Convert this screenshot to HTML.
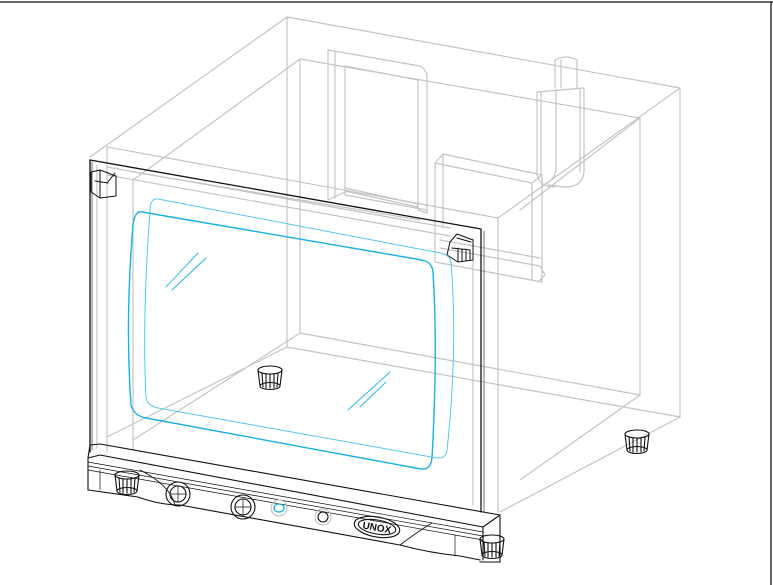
<!DOCTYPE html>
<html><head><meta charset="utf-8"><style>
html,body{margin:0;padding:0;background:#fff;width:773px;height:585px;overflow:hidden}
svg{display:block}
</style></head><body>
<svg width="773" height="585" viewBox="0 0 773 585" xmlns="http://www.w3.org/2000/svg" fill="none" stroke-linecap="round" stroke-linejoin="round">
<line x1="0" y1="2" x2="773" y2="2" stroke="#333" stroke-width="1.5"/>
<line x1="771" y1="2" x2="771" y2="585" stroke="#333" stroke-width="1.5"/>

<g stroke="#c4c4c4" stroke-width="1.2">
<path d="M287,17 L680,88 L680,417 L287,347 Z"/>
<path d="M287,17 L90,157 M680,88 L498,218 M287,347 L107,437 M680,417 L500,512"/>
<path d="M107,147 L498,218 L498,512"/>
<path d="M107,147 L107,452"/>
<path d="M300,59 L640,118 L640,395 L300,333 Z"/>
<path d="M300,59 L133,180 M640,118 L520,210 M300,333 L133,440 M640,395 L520,480"/>
<path d="M133,180 L133,450"/>
<path d="M133,172 L420,220"/>
<path d="M107,167 L450,228 M107,175 L450,236"/>
<path d="M328,50 L420,66 Q427,70 427,78 L427,213 L418,210 L418,80 L345,66 L345,195 L427,210"/>
<path d="M328,50 L328,200 L345,192 M335,52 L335,198"/>
<path d="M345,188 L418,204 M345,191 L418,207"/>
<path d="M555,60 Q566,54 577,60 L577,88 M555,60 L555,88 M561,60 L561,88"/>
<path d="M537,92 L584,88 L584,170 Q584,187 565,187 L548,185 M537,92 L537,175 Q540,187 555,187"/>
<path d="M541,92 L541,176 M580,90 L580,172 M556,90 L556,170 Q554,180 545,184"/>
<path d="M435,163 L443,154 L542,175 L542,282 L435,262 Z"/>
<path d="M443,154 L443,228 M435,163 L532,183 L542,175 M532,183 L532,280"/>
<path d="M440,240 L540,258 M440,248 L540,266 L545,275 L538,282"/>
</g>

<g stroke="#111" stroke-width="1.3">
<path d="M90,160 L481,229 L481,512"/>
<path d="M90,160 L90,452"/>
<path d="M92,162 L92,450" stroke-width="0.6"/>
<path d="M484,231 L484,512" stroke-width="0.6"/>
</g>
<path d="M97,165 L97,448 M473,238 L473,505" stroke="#bbb" stroke-width="1"/>

<g stroke="#111" stroke-width="1">
<path d="M91,172 L100,170 L116,176 L116,196 L100,198 L91,192 Z M100,170 L100,198 M95,181 L108,183 M108,182 L115,173"/>
<path d="M450,242 L457,234 L473,240 L473,260 L458,262 L447,255 Z M457,238 L471,242 M452,248 L470,250 L470,260 M458,248 L458,261 M462,249 L462,261 M466,249 L466,261"/>
</g>

<g stroke="#1ab0e6" stroke-width="1.4">
<path d="M142,212 Q135,210 133,225 Q125,320 131,405 Q134,416 146,418 L421,469 Q431,470 432,458 Q438,350 433,272 Q432,262 422,260 Z"/>
<path d="M158,199 Q150,198 150,210 Q142,320 146,398 Q148,406 158,408 L437,458 Q446,459 447,450 Q458,350 451,262 Q449,254 440,253 Z" stroke-width="1" stroke="#55c6ee"/>
<path d="M166,287 L198,253 M172,290 L206,258 M348,410 L390,372 M360,407 L386,382" stroke-width="0.9"/>
</g>

<g stroke="#111" stroke-width="1.1">
<g transform="translate(270,378)"><ellipse cx="0" cy="-8" rx="12" ry="4"/><path d="M-12,-8 L-10,8 M12,-8 L10,8 M-8,-5 L-7,9 M-4,-4 L-4,10 M0,-4 L0,10 M4,-4 L4,10 M8,-5 L7,9"/><ellipse cx="0" cy="8" rx="10" ry="3.5"/></g>
<g transform="translate(637,442)"><ellipse cx="0" cy="-8" rx="12" ry="4"/><path d="M-12,-8 L-10,8 M12,-8 L10,8 M-8,-5 L-7,9 M-4,-4 L-4,10 M0,-4 L0,10 M4,-4 L4,10 M8,-5 L7,9"/><ellipse cx="0" cy="8" rx="10" ry="3.5"/></g>
<g transform="translate(127,483)"><ellipse cx="0" cy="-8" rx="12" ry="4"/><path d="M-12,-8 L-10,8 M12,-8 L10,8 M-8,-5 L-7,9 M-4,-4 L-4,10 M0,-4 L0,10 M4,-4 L4,10 M8,-5 L7,9"/><ellipse cx="0" cy="8" rx="10" ry="3.5"/></g>
<g transform="translate(492,547)"><ellipse cx="0" cy="-8" rx="12" ry="4"/><path d="M-12,-8 L-10,8 M12,-8 L10,8 M-8,-5 L-7,9 M-4,-4 L-4,10 M0,-4 L0,10 M4,-4 L4,10 M8,-5 L7,9"/><ellipse cx="0" cy="8" rx="10" ry="3.5"/></g>
</g>

<g stroke="#111" stroke-width="1.1">
<path d="M90,445 L100,444 L500,515 L500,562 L480,562"/>
<path d="M88,458 L100,455 L483,527 L483,560"/>
<path d="M88,458 L88,490 L138,497 Q160,505 180,505 L400,545 Q430,553 460,556 L480,560"/>
<path d="M88,462 L483,532 M88,466 L483,536 M88,470 L483,540" stroke-width="0.7"/>
<path d="M140,470 Q170,485 175,505 M400,545 Q420,530 432,523" stroke-width="0.9"/>
<path d="M483,527 L500,515 M90,445 L88,458"/>
<path d="M100,470 L100,490 M455,535 L455,556" stroke-width="0.7"/>
<circle cx="178" cy="494" r="12"/><circle cx="178" cy="494" r="8"/>
<path d="M170,494 L186,494 M178,486 L178,502" stroke-width="0.7"/>
<circle cx="243" cy="507" r="12"/><circle cx="243" cy="507" r="8"/>
<path d="M235,507 L251,507 M243,499 L243,515" stroke-width="0.7"/>
<ellipse cx="377" cy="527" rx="23" ry="10" transform="rotate(10 377 527)"/>
<ellipse cx="377" cy="527" rx="19" ry="7" transform="rotate(10 377 527)"/>
<circle cx="323" cy="517" r="5"/>
</g>
<circle cx="323" cy="517" r="8" stroke="#bbb" stroke-width="1"/>
<circle cx="279" cy="508" r="8" stroke="#bbb" stroke-width="1"/>
<ellipse cx="279" cy="508" rx="5" ry="4" stroke="#1ab0e6" stroke-width="1.3"/>
<text x="377" y="531" font-family="Liberation Sans, sans-serif" font-size="10" font-weight="bold" fill="#111" text-anchor="middle" transform="rotate(10 377 527)">UNOX</text>
</svg>
</body></html>
